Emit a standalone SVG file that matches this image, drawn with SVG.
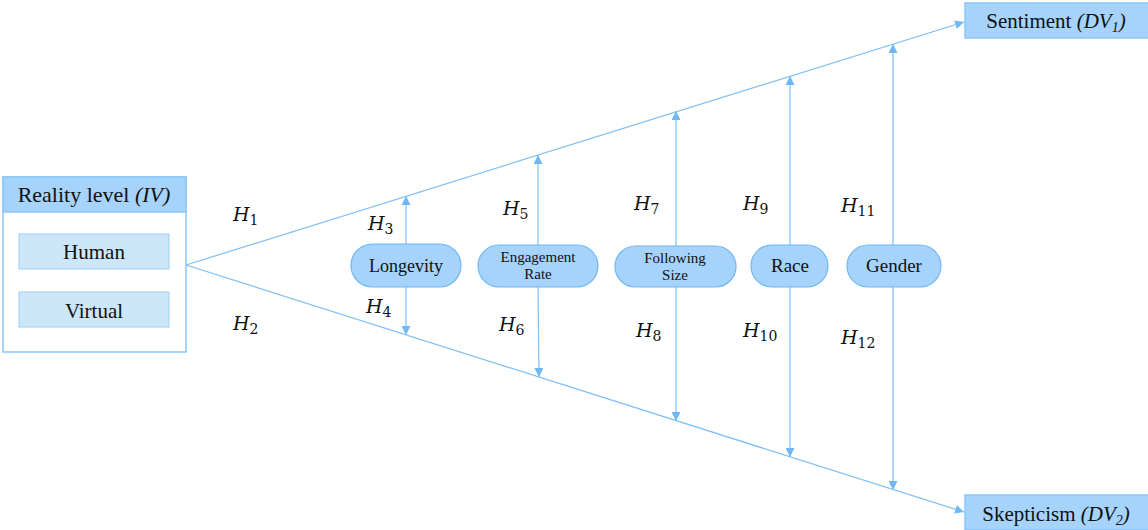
<svg xmlns="http://www.w3.org/2000/svg" width="1148" height="530" viewBox="0 0 1148 530">
<defs>
<marker id="arr" viewBox="0 0 10 10" refX="10" refY="5" markerWidth="9" markerHeight="9" markerUnits="userSpaceOnUse" orient="auto">
<path d="M0,0 L10,5 L0,10 z" fill="#6fb8f5"/>
</marker>
<style>
.ln{stroke:#7cbff7;stroke-width:1.2;fill:none}
.hdr{fill:#a5d3fb;stroke:#8cc6f5;stroke-width:1.5}
.box{fill:#fff;stroke:#8cc6f5;stroke-width:1.5}
.opt{fill:#cce6f9;stroke:#a9d5f7;stroke-width:1.2}
.pill{fill:#a5d3fb;stroke:#6fb8f5;stroke-width:1.2}
.t{font-family:'Liberation Serif','DejaVu Serif',serif;fill:#111;text-anchor:middle}
.h{font-family:'DejaVu Serif','Liberation Serif',serif;font-style:italic;font-size:19px;fill:#111}
.s{font-style:normal;font-size:14px}
</style>
</defs>
<g id="connectors">
<line class="ln" x1="186" y1="265" x2="964" y2="22" marker-end="url(#arr)"/>
<line class="ln" x1="186" y1="265" x2="964" y2="512" marker-end="url(#arr)"/>
<line class="ln" x1="406" y1="244" x2="406" y2="196" marker-end="url(#arr)"/>
<line class="ln" x1="406" y1="287" x2="406" y2="335" marker-end="url(#arr)"/>
<line class="ln" x1="538" y1="245" x2="538" y2="155" marker-end="url(#arr)"/>
<line class="ln" x1="538" y1="287" x2="539" y2="377" marker-end="url(#arr)"/>
<line class="ln" x1="676" y1="246" x2="676" y2="111" marker-end="url(#arr)"/>
<line class="ln" x1="676" y1="287" x2="676" y2="421" marker-end="url(#arr)"/>
<line class="ln" x1="790" y1="245" x2="790" y2="76" marker-end="url(#arr)"/>
<line class="ln" x1="790" y1="287" x2="790" y2="457" marker-end="url(#arr)"/>
<line class="ln" x1="893" y1="245" x2="893" y2="44" marker-end="url(#arr)" style="stroke:#a2d2f8;stroke-width:1.8"/>
<line class="ln" x1="893" y1="287" x2="893" y2="490" marker-end="url(#arr)" style="stroke:#a2d2f8;stroke-width:1.8"/>
</g>
<g id="reality">
<rect class="box" x="3" y="177" width="183" height="175"/>
<rect class="hdr" x="3" y="177" width="183" height="35"/>
<text class="t" x="94" y="202" font-size="22">Reality level <tspan font-style="italic">(IV)</tspan></text>
</g>
<g id="human">
<rect class="opt" x="19" y="234" width="150" height="35"/>
<text class="t" x="94" y="259" font-size="21">Human</text>
</g>
<g id="virtual">
<rect class="opt" x="19" y="292" width="150" height="35"/>
<text class="t" x="94" y="318" font-size="21">Virtual</text>
</g>
<g id="sentiment">
<rect class="hdr" x="965" y="3" width="184" height="35"/>
<text class="t" x="1056" y="28" font-size="21">Sentiment <tspan font-style="italic">(DV<tspan font-size="14" dy="4">1</tspan><tspan dy="-4">)</tspan></tspan></text>
</g>
<g id="skepticism">
<rect class="hdr" x="965" y="495" width="184" height="35"/>
<text class="t" x="1056" y="521" font-size="21">Skepticism <tspan font-style="italic">(DV<tspan font-size="14" dy="4">2</tspan><tspan dy="-4">)</tspan></tspan></text>
</g>
<g id="longevity">
<rect class="pill" x="351" y="244" width="110" height="43" rx="21.5"/>
<text class="t" x="406" y="272" font-size="18">Longevity</text>
</g>
<g id="engagement">
<rect class="pill" x="478" y="245" width="120" height="42" rx="21"/>
<text class="t" x="538" y="262" font-size="15">Engagement</text>
<text class="t" x="538" y="279" font-size="15">Rate</text>
</g>
<g id="following">
<rect class="pill" x="615" y="246" width="121" height="41" rx="20.5"/>
<text class="t" x="675" y="263" font-size="15">Following</text>
<text class="t" x="675" y="280" font-size="15">Size</text>
</g>
<g id="race">
<rect class="pill" x="751" y="245" width="77" height="42" rx="21"/>
<text class="t" x="790" y="272" font-size="19">Race</text>
</g>
<g id="gender">
<rect class="pill" x="847" y="245" width="94" height="42" rx="21"/>
<text class="t" x="894" y="272" font-size="19">Gender</text>
</g>
<g id="labels">
<text class="h" x="233" y="221">H<tspan class="s" dy="4">1</tspan></text>
<text class="h" x="233" y="330">H<tspan class="s" dy="4">2</tspan></text>
<text class="h" x="368" y="230">H<tspan class="s" dy="4">3</tspan></text>
<text class="h" x="366" y="313">H<tspan class="s" dy="4">4</tspan></text>
<text class="h" x="503" y="215">H<tspan class="s" dy="4">5</tspan></text>
<text class="h" x="499" y="331">H<tspan class="s" dy="4">6</tspan></text>
<text class="h" x="634" y="210">H<tspan class="s" dy="4">7</tspan></text>
<text class="h" x="636" y="337">H<tspan class="s" dy="4">8</tspan></text>
<text class="h" x="743" y="210">H<tspan class="s" dy="4">9</tspan></text>
<text class="h" x="743" y="337">H<tspan class="s" dy="4">10</tspan></text>
<text class="h" x="841" y="212">H<tspan class="s" dy="4">11</tspan></text>
<text class="h" x="841" y="344">H<tspan class="s" dy="4">12</tspan></text>
</g>
</svg>
